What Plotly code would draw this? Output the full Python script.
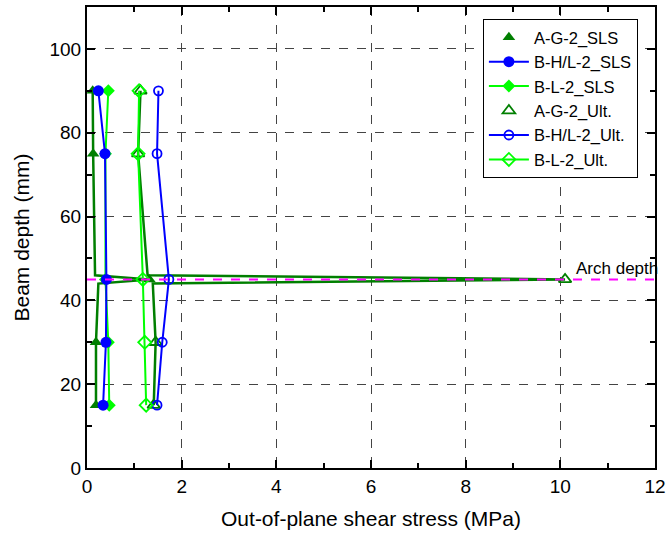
import plotly.graph_objects as go

# Depth levels (mm) at which stresses were evaluated
depth = [90, 75, 45, 30, 15]

# Out-of-plane shear stress (MPa) per specimen at those depths
ag2_sls = [0.12, 0.13, 1.32, 0.19, 0.19]
bhl2_sls = [0.24, 0.38, 0.41, 0.40, 0.34]
bl2_sls = [0.45, 0.39, 0.39, 0.45, 0.47]
ag2_ult = [1.13, 1.08, 10.1, 1.45, 1.41]
bhl2_ult = [1.51, 1.48, 1.73, 1.59, 1.48]
bl2_ult = [1.10, 1.08, 1.18, 1.22, 1.25]

# A-G-2 profiles including the points just above / below the arch
ag2_profile_depth = [90, 75, 46, 45, 44, 30, 15]
ag2_sls_profile = [0.12, 0.13, 0.17, 1.32, 0.24, 0.19, 0.19]
ag2_ult_profile = [1.13, 1.08, 1.28, 10.1, 1.39, 1.45, 1.41]

arch_depth = 45
x_range = [0, 12]
y_range = [0, 110]

DKGREEN = "#007F00"
BLUE = "#0000FF"
LIME = "#00FF00"
MAGENTA = "#FF00FF"

fig = go.Figure()

# A-G-2 profile lines (drawn without legend entries)
fig.add_trace(go.Scatter(x=ag2_sls_profile, y=ag2_profile_depth, mode="lines",
                         line=dict(color=DKGREEN, width=2.5), showlegend=False,
                         hoverinfo="skip"))
fig.add_trace(go.Scatter(x=ag2_ult_profile, y=ag2_profile_depth, mode="lines",
                         line=dict(color=DKGREEN, width=2.5), showlegend=False,
                         hoverinfo="skip"))

fig.add_trace(go.Scatter(x=ag2_sls, y=depth, mode="markers", name="A-G-2_SLS",
                         legendrank=1,
                         marker=dict(symbol="triangle-up", size=11, color=DKGREEN)))
fig.add_trace(go.Scatter(x=bl2_sls, y=depth, mode="lines+markers", name="B-L-2_SLS",
                         legendrank=3,
                         line=dict(color=LIME, width=2),
                         marker=dict(symbol="diamond", size=10, color=LIME)))
fig.add_trace(go.Scatter(x=bhl2_sls, y=depth, mode="lines+markers", name="B-H/L-2_SLS",
                         legendrank=2,
                         line=dict(color=BLUE, width=2),
                         marker=dict(symbol="circle", size=11, color=BLUE)))
fig.add_trace(go.Scatter(x=ag2_ult, y=depth, mode="markers", name="A-G-2_Ult.",
                         legendrank=4,
                         marker=dict(symbol="triangle-up-open", size=11, color=DKGREEN,
                                     line=dict(width=1.8, color=DKGREEN))))
fig.add_trace(go.Scatter(x=bhl2_ult, y=depth, mode="lines+markers", name="B-H/L-2_Ult.",
                         legendrank=5,
                         line=dict(color=BLUE, width=2),
                         marker=dict(symbol="circle-open", size=9, color=BLUE,
                                     line=dict(width=1.8, color=BLUE))))
fig.add_trace(go.Scatter(x=bl2_ult, y=depth, mode="lines+markers", name="B-L-2_Ult.",
                         legendrank=6,
                         line=dict(color=LIME, width=2),
                         marker=dict(symbol="diamond-open", size=10, color=LIME,
                                     line=dict(width=1.8, color=LIME))))

# Arch depth reference line
fig.add_trace(go.Scatter(x=x_range, y=[arch_depth, arch_depth], mode="lines",
                         line=dict(color=MAGENTA, width=2, dash="dash"),
                         showlegend=False, hoverinfo="skip"))

fig.add_annotation(x=10.28, y=arch_depth, text="Arch depth", showarrow=False,
                   xanchor="left", yanchor="bottom", yshift=-1,
                   font=dict(size=17, color="black"))

axis_common = dict(
    showline=True, linecolor="black", linewidth=2, mirror="allticks",
    ticks="inside", ticklen=8, tickwidth=2, tickcolor="black",
    showgrid=True, gridcolor="#444444", gridwidth=1, griddash="dash",
    zeroline=False, tickfont=dict(size=19, color="black"),
)

fig.update_xaxes(range=x_range, dtick=2, tick0=0,
                 minor=dict(dtick=1, ticks="inside", ticklen=5, tickwidth=1.5,
                            tickcolor="black", showgrid=False),
                 title=dict(text="Out-of-plane shear stress (MPa)",
                            font=dict(size=21, color="black"), standoff=16),
                 **axis_common)
fig.update_yaxes(range=y_range, dtick=20, tick0=0,
                 minor=dict(dtick=10, ticks="inside", ticklen=5, tickwidth=1.5,
                            tickcolor="black", showgrid=False),
                 title=dict(text="Beam depth (mm)",
                            font=dict(size=21, color="black"), standoff=14),
                 **axis_common)

fig.update_layout(
    width=671, height=540,
    margin=dict(l=87, r=12, t=5, b=72),
    plot_bgcolor="white", paper_bgcolor="white",
    font=dict(family="Liberation Sans, Arial, sans-serif", color="black"),
    legend=dict(x=0.697, y=0.974, xanchor="left", yanchor="top",
                bordercolor="black", borderwidth=1, bgcolor="white",
                font=dict(size=16.5, color="black"), itemwidth=40,
                tracegroupgap=0),
)

fig.write_html("out.html")
